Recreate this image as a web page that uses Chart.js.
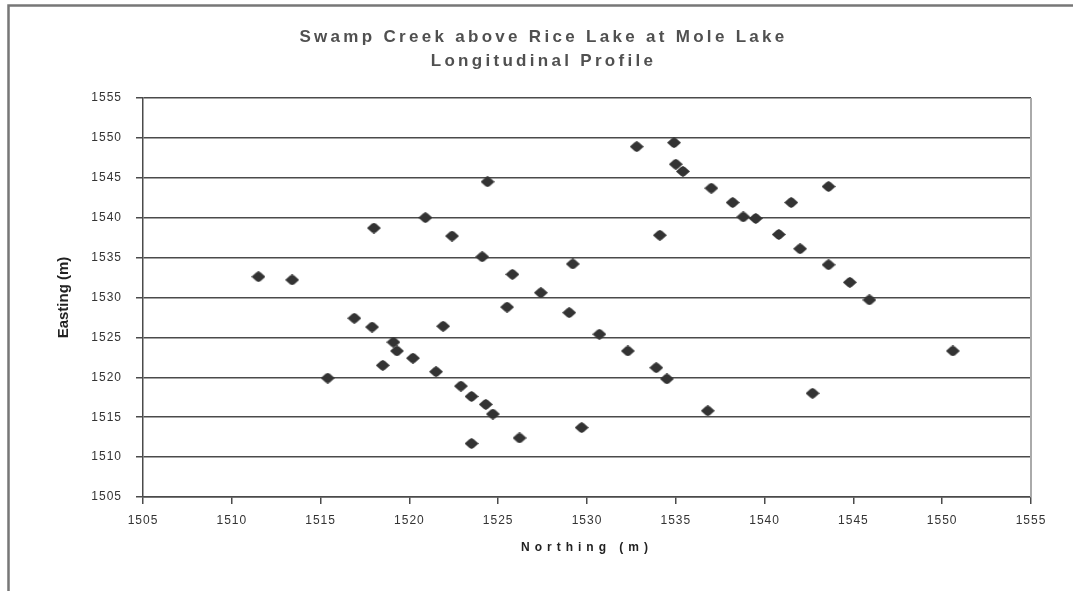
<!DOCTYPE html>
<html><head><meta charset="utf-8">
<script src="https://cdn.jsdelivr.net/npm/chart.js@4/dist/chart.umd.min.js"></script>
<style>html,body{margin:0;padding:0;background:#fff;}#wrap{width:1073px;height:591px;}</style>
</head><body><div id="wrap"><canvas id="c" width="1073" height="591"></canvas></div>
<script>
const titleLines = ["Swamp Creek above Rice Lake at Mole Lake", "Longitudinal Profile"];
const xAxisTitle = "Northing (m)";
const yAxisTitle = "Easting (m)";
const xTickValues = [1505, 1510, 1515, 1520, 1525, 1530, 1535, 1540, 1545, 1550, 1555];
const yTickValues = [1505, 1510, 1515, 1520, 1525, 1530, 1535, 1540, 1545, 1550, 1555];
const northing = [1524.4, 1520.9, 1518.0, 1522.4, 1524.1, 1529.2, 1511.5, 1513.4, 1525.8, 1527.4,
  1525.5, 1529.0, 1516.9, 1517.9, 1521.9, 1519.1, 1519.3, 1520.2, 1518.5, 1521.5,
  1515.4, 1522.9, 1523.5, 1524.3, 1524.7, 1529.7, 1526.2, 1523.5,
  1532.8, 1534.9, 1535.0, 1535.4, 1537.0, 1543.6, 1538.2, 1541.5, 1538.8, 1539.5,
  1534.1, 1540.8, 1542.0, 1543.6, 1544.8, 1545.9, 1530.7, 1532.3, 1550.6, 1533.9,
  1534.5, 1542.7, 1536.8];
const easting = [1544.5, 1540.0, 1538.7, 1537.7, 1535.1, 1534.2, 1532.6, 1532.2, 1532.9, 1530.6,
  1528.8, 1528.1, 1527.4, 1526.3, 1526.4, 1524.4, 1523.3, 1522.4, 1521.5, 1520.7,
  1519.9, 1518.9, 1517.6, 1516.6, 1515.4, 1513.7, 1512.4, 1511.7,
  1548.9, 1549.4, 1546.7, 1545.8, 1543.7, 1543.9, 1541.9, 1541.9, 1540.1, 1539.9,
  1537.8, 1537.9, 1536.1, 1534.1, 1531.9, 1529.7, 1525.4, 1523.3, 1523.3, 1521.2,
  1519.8, 1518.0, 1515.8];

const points = northing.map((x, i) => ({x: x, y: easting[i]}));

// diamond marker
const marker = document.createElement('canvas');
marker.width = 14; marker.height = 11;
(function () {
  const m = marker.getContext('2d');
  m.fillStyle = '#333333';
  m.beginPath();
  m.moveTo(0, 5.5); m.lineTo(4.5, 1.5); m.lineTo(7, 0); m.lineTo(9.5, 1.5); m.lineTo(14, 5.5);
  m.lineTo(9.5, 9.5); m.lineTo(7, 11); m.lineTo(4.5, 9.5); m.closePath();
  m.fill();
})();

function spaced(obj, method, spacing, dx) {
  if (!obj || obj['_sp_' + method]) return;
  const orig = obj[method];
  obj[method] = function (...args) {
    const ctx = this.ctx;
    ctx.save();
    ctx.letterSpacing = spacing;
    if (dx) ctx.translate(dx, 0);
    const r = orig.apply(this, args);
    ctx.restore();
    return r;
  };
  obj['_sp_' + method] = true;
}

const framePlugin = {
  id: 'frame',
  beforeDraw(chart) {
    spaced(chart.titleBlock, 'draw', '3.3px', 28);
    spaced(chart.scales.x, 'drawTitle', '5px', 0);
    spaced(chart.scales.x, 'drawLabels', '1px', 0);
    spaced(chart.scales.y, 'drawLabels', '1px', 0);
    const ctx = chart.ctx;
    ctx.save();
    ctx.fillStyle = '#ffffff';
    ctx.fillRect(0, 0, chart.width, chart.height);
    ctx.strokeStyle = '#777777';
    ctx.lineWidth = 2.5;
    ctx.strokeRect(8.5, 5.5, chart.width + 20, chart.height + 20);
    ctx.restore();
  },
  beforeDatasetsDraw(chart) {
    const a = chart.chartArea, ctx = chart.ctx;
    ctx.save();
    ctx.strokeStyle = '#aaaaaa';
    ctx.lineWidth = 2;
    ctx.beginPath();
    ctx.moveTo(a.right, a.top);
    ctx.lineTo(a.right, a.bottom);
    ctx.stroke();
    ctx.restore();
  }
};

const FONT = "'Liberation Sans', Arial, sans-serif";

new Chart(document.getElementById('c'), {
  type: 'scatter',
  data: {
    datasets: [{
      data: points,
      pointStyle: marker,
      pointRadius: 6,
      pointHoverRadius: 6,
      backgroundColor: '#333333',
      borderColor: '#333333',
      showLine: false
    }]
  },
  options: {
    responsive: false,
    animation: false,
    devicePixelRatio: 1,
    layout: {padding: {left: 0, right: 42, top: 0, bottom: 0}},
    plugins: {
      legend: {display: false},
      tooltip: {enabled: false},
      title: {
        display: true,
        text: titleLines,
        color: '#505050',
        font: {family: FONT, size: 17, weight: 'bold', lineHeight: 1.42},
        padding: {top: 25, bottom: 24.7}
      }
    },
    scales: {
      x: {
        type: 'linear',
        position: 'bottom',
        min: 1505, max: 1555,
        afterBuildTicks: s => { s.ticks = xTickValues.map(v => ({value: v})); },
        afterFit: s => { s.height = 94; },
        ticks: {
          callback: v => String(v),
          color: '#333333',
          font: {family: FONT, size: 12},
          padding: 9,
          maxRotation: 0,
          autoSkip: false
        },
        grid: {drawOnChartArea: false, drawTicks: true, tickLength: 7, color: '#4a4a4a', lineWidth: 1.5},
        border: {display: true, color: '#4a4a4a', width: 1.5},
        title: {
          display: true,
          text: xAxisTitle,
          color: '#222222',
          font: {family: FONT, size: 12, weight: 'bold'},
          padding: {top: 0, bottom: 36}
        }
      },
      y: {
        type: 'linear',
        min: 1505, max: 1555,
        afterBuildTicks: s => { s.ticks = yTickValues.map(v => ({value: v})); },
        afterFit: s => { s.width = 143; },
        ticks: {
          callback: v => String(v),
          color: '#333333',
          font: {family: FONT, size: 12},
          padding: 14,
          autoSkip: false
        },
        grid: {drawTicks: true, tickLength: 7, color: '#4a4a4a', lineWidth: 1.5},
        border: {display: true, color: '#4a4a4a', width: 1.5},
        title: {
          display: true,
          text: yAxisTitle,
          color: '#222222',
          font: {family: FONT, size: 15, weight: 'bold'},
          padding: {top: 55, bottom: 0}
        }
      }
    }
  },
  plugins: [framePlugin]
});
</script>
</body></html>
